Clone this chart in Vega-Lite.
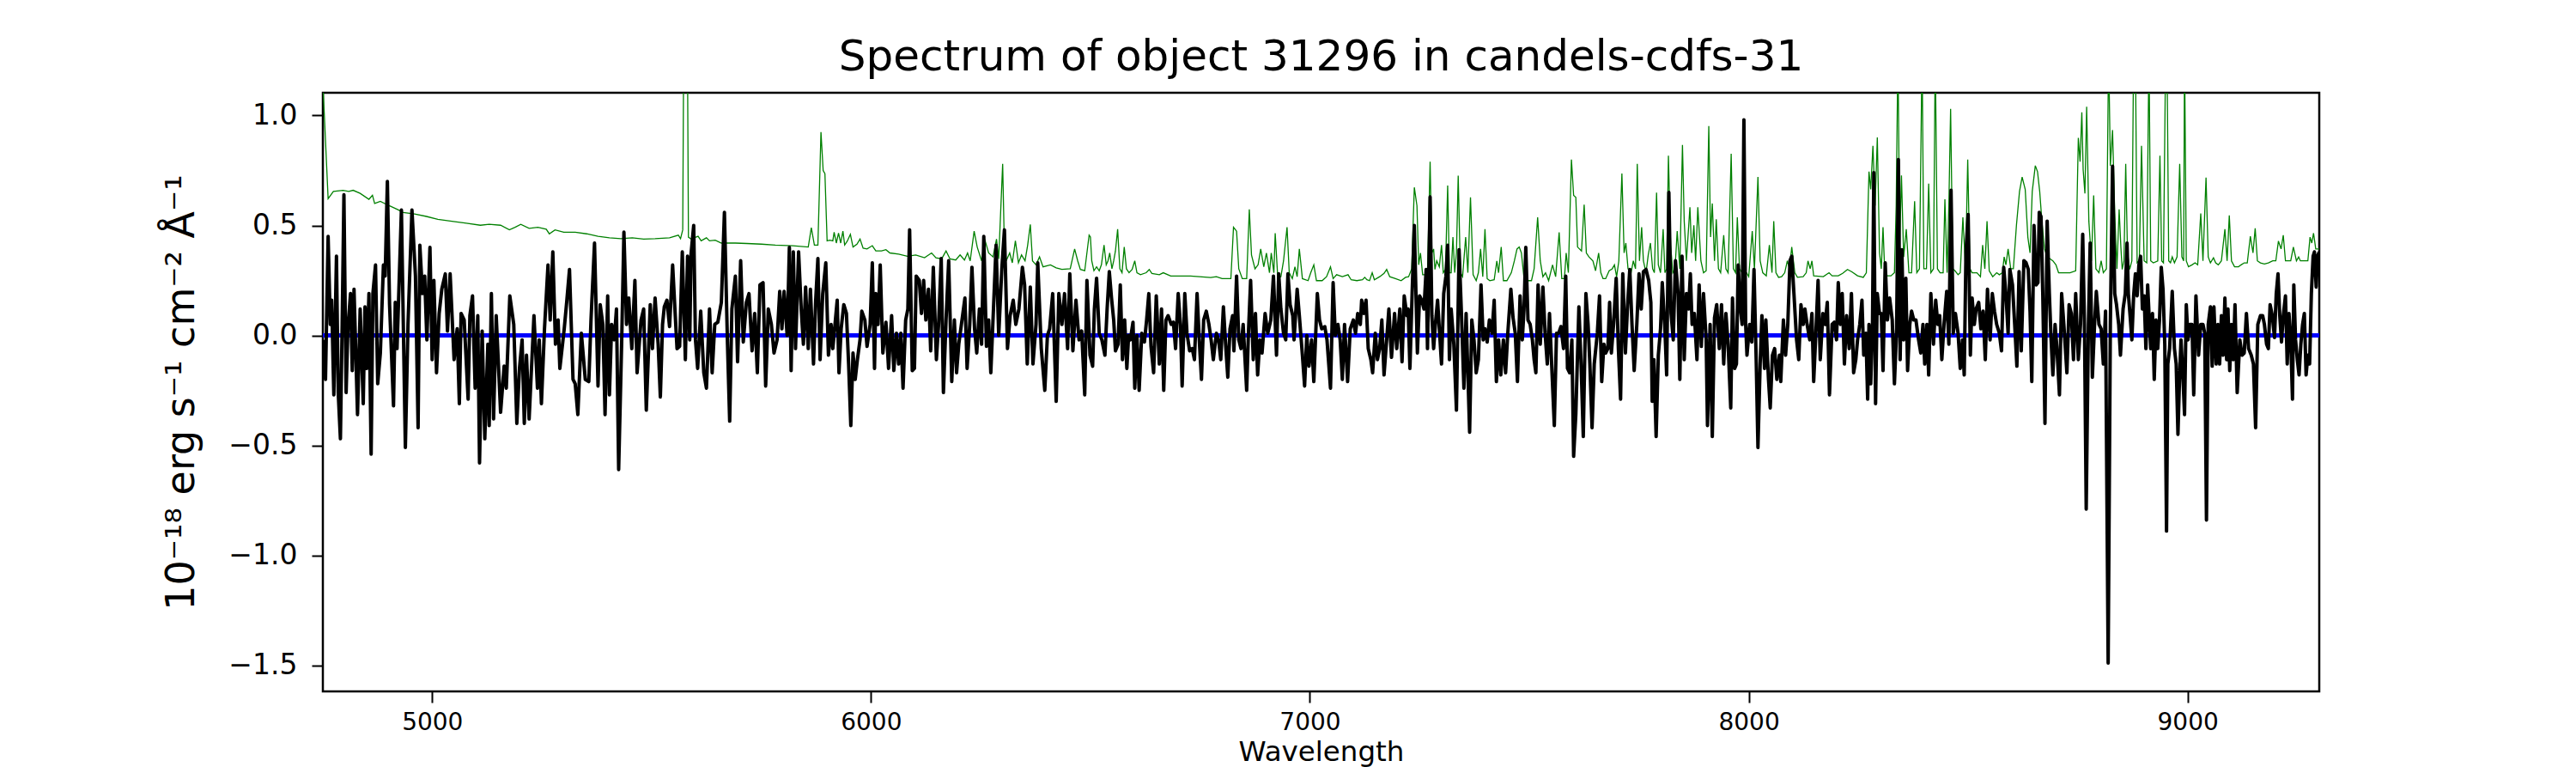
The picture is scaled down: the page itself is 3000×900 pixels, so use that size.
{
  "$schema": "https://vega.github.io/schema/vega-lite/v6.json",
  "width": 2325,
  "height": 697,
  "autosize": "none",
  "padding": {"left": 376, "top": 108, "right": 299, "bottom": 95},
  "background": "white",
  "title": {
    "text": "Spectrum of object 31296 in candels-cdfs-31",
    "fontSize": 50,
    "font": "DejaVu Sans",
    "fontWeight": "normal",
    "color": "black",
    "anchor": "middle",
    "frame": "group",
    "baseline": "alphabetic",
    "offset": 22,
    "dy": 46
  },
  "datasets": {
    "flux": [
      {"wl":4751,"flux":-0.02},{"wl":4757,"flux":-0.20},{"wl":4763,"flux":0.45},{"wl":4768,"flux":0.05},{"wl":4771,"flux":0.16},{"wl":4776,"flux":-0.27},{"wl":4782,"flux":0.36},{"wl":4786,"flux":-0.26},{"wl":4791,"flux":-0.47},{"wl":4795,"flux":0.05},{"wl":4799,"flux":0.64},{"wl":4804,"flux":-0.26},{"wl":4808,"flux":0.03},{"wl":4814,"flux":0.19},{"wl":4818,"flux":-0.16},{"wl":4822,"flux":0.21},{"wl":4830,"flux":-0.36},{"wl":4836,"flux":0.12},{"wl":4843,"flux":-0.31},{"wl":4847,"flux":0.13},{"wl":4851,"flux":-0.15},{"wl":4856,"flux":0.19},{"wl":4861,"flux":-0.54},{"wl":4865,"flux":0.19},{"wl":4871,"flux":0.32},{"wl":4876,"flux":-0.22},{"wl":4882,"flux":-0.08},{"wl":4889,"flux":0.32},{"wl":4893,"flux":0.27},{"wl":4898,"flux":0.70},{"wl":4903,"flux":0.14},{"wl":4912,"flux":-0.32},{"wl":4916,"flux":0.15},{"wl":4920,"flux":-0.06},{"wl":4930,"flux":0.57},{"wl":4939,"flux":-0.51},{"wl":4945,"flux":0.05},{"wl":4954,"flux":0.57},{"wl":4962,"flux":0.27},{"wl":4968,"flux":-0.42},{"wl":4972,"flux":0.41},{"wl":4978,"flux":0.19},{"wl":4983,"flux":0.27},{"wl":4988,"flux":-0.02},{"wl":4995,"flux":0.40},{"wl":5000,"flux":-0.11},{"wl":5004,"flux":0.25},{"wl":5010,"flux":-0.17},{"wl":5016,"flux":0.10},{"wl":5022,"flux":0.21},{"wl":5030,"flux":0.28},{"wl":5035,"flux":0.02},{"wl":5041,"flux":0.28},{"wl":5050,"flux":-0.11},{"wl":5057,"flux":0.03},{"wl":5062,"flux":-0.31},{"wl":5066,"flux":0.10},{"wl":5073,"flux":0.07},{"wl":5082,"flux":-0.29},{"wl":5086,"flux":0.09},{"wl":5092,"flux":0.18},{"wl":5098,"flux":-0.24},{"wl":5104,"flux":0.09},{"wl":5108,"flux":-0.58},{"wl":5114,"flux":0.02},{"wl":5120,"flux":-0.47},{"wl":5127,"flux":-0.04},{"wl":5130,"flux":-0.41},{"wl":5135,"flux":0.19},{"wl":5140,"flux":-0.38},{"wl":5146,"flux":0.09},{"wl":5156,"flux":-0.35},{"wl":5164,"flux":-0.14},{"wl":5169,"flux":-0.24},{"wl":5177,"flux":0.18},{"wl":5186,"flux":0.05},{"wl":5193,"flux":-0.40},{"wl":5199,"flux":-0.15},{"wl":5205,"flux":-0.02},{"wl":5210,"flux":-0.40},{"wl":5215,"flux":-0.09},{"wl":5221,"flux":-0.38},{"wl":5232,"flux":0.09},{"wl":5240,"flux":-0.24},{"wl":5244,"flux":-0.02},{"wl":5249,"flux":-0.31},{"wl":5256,"flux":0.03},{"wl":5264,"flux":0.32},{"wl":5269,"flux":0.07},{"wl":5275,"flux":0.38},{"wl":5281,"flux":-0.04},{"wl":5287,"flux":0.07},{"wl":5291,"flux":-0.15},{"wl":5301,"flux":0.03},{"wl":5307,"flux":0.16},{"wl":5313,"flux":0.30},{"wl":5321,"flux":-0.20},{"wl":5326,"flux":-0.22},
      {"wl":5332,"flux":-0.36},{"wl":5340,"flux":0.01},{"wl":5349,"flux":-0.20},{"wl":5357,"flux":-0.21},{"wl":5362,"flux":0.07},{"wl":5370,"flux":0.42},{"wl":5378,"flux":-0.23},{"wl":5383,"flux":0.14},{"wl":5389,"flux":0.05},{"wl":5394,"flux":-0.36},{"wl":5400,"flux":0.18},{"wl":5404,"flux":-0.27},{"wl":5409,"flux":0.05},{"wl":5415,"flux":-0.02},{"wl":5420,"flux":0.12},{"wl":5425,"flux":-0.61},{"wl":5432,"flux":-0.02},{"wl":5437,"flux":0.47},{"wl":5443,"flux":0.05},{"wl":5448,"flux":0.17},{"wl":5455,"flux":-0.06},{"wl":5462,"flux":0.25},{"wl":5467,"flux":-0.17},{"wl":5476,"flux":0.07},{"wl":5482,"flux":0.12},{"wl":5488,"flux":-0.34},{"wl":5497,"flux":0.14},{"wl":5502,"flux":-0.06},{"wl":5508,"flux":0.17},{"wl":5515,"flux":-0.04},{"wl":5520,"flux":-0.28},{"wl":5525,"flux":0.05},{"wl":5529,"flux":0.13},{"wl":5535,"flux":0.16},{"wl":5541,"flux":0.04},{"wl":5548,"flux":0.32},{"wl":5554,"flux":0.09},{"wl":5558,"flux":-0.06},{"wl":5564,"flux":-0.05},{"wl":5570,"flux":0.38},{"wl":5577,"flux":-0.11},{"wl":5582,"flux":0.36},{"wl":5587,"flux":-0.02},{"wl":5590,"flux":0.37},{"wl":5596,"flux":0.50},{"wl":5600,"flux":-0.02},{"wl":5605,"flux":-0.15},{"wl":5612,"flux":0.11},{"wl":5619,"flux":-0.17},{"wl":5625,"flux":-0.24},{"wl":5632,"flux":0.12},{"wl":5638,"flux":-0.17},{"wl":5644,"flux":0.05},{"wl":5651,"flux":0.06},{"wl":5659,"flux":0.15},{"wl":5666,"flux":0.56},{"wl":5673,"flux":-0.04},{"wl":5678,"flux":-0.39},{"wl":5683,"flux":0.12},{"wl":5691,"flux":0.27},{"wl":5696,"flux":-0.12},{"wl":5703,"flux":0.34},{"wl":5709,"flux":-0.03},{"wl":5716,"flux":0.15},{"wl":5722,"flux":0.19},{"wl":5729,"flux":-0.07},{"wl":5735,"flux":0.10},{"wl":5741,"flux":-0.17},{"wl":5747,"flux":0.23},{"wl":5754,"flux":0.24},{"wl":5760,"flux":-0.23},{"wl":5766,"flux":0.12},{"wl":5773,"flux":0.05},{"wl":5779,"flux":-0.08},{"wl":5786,"flux":-0.02},{"wl":5792,"flux":0.20},{"wl":5797,"flux":0.03},{"wl":5802,"flux":0.20},{"wl":5809,"flux":0.00},{"wl":5814,"flux":0.40},{"wl":5818,"flux":-0.16},{"wl":5823,"flux":0.38},{"wl":5828,"flux":-0.06},{"wl":5835,"flux":0.38},{"wl":5841,"flux":0.12},{"wl":5846,"flux":-0.04},{"wl":5851,"flux":0.22},{"wl":5857,"flux":-0.06},{"wl":5862,"flux":0.21},{"wl":5869,"flux":-0.13},{"wl":5874,"flux":0.16},{"wl":5879,"flux":0.35},{"wl":5884,"flux":-0.11},{"wl":5890,"flux":0.19},{"wl":5897,"flux":0.33},{"wl":5903,"flux":-0.09},{"wl":5909,"flux":0.05},
      {"wl":5913,"flux":-0.06},{"wl":5918,"flux":0.05},{"wl":5923,"flux":0.16},{"wl":5927,"flux":-0.17},{"wl":5932,"flux":0.03},{"wl":5938,"flux":0.14},{"wl":5944,"flux":0.10},{"wl":5949,"flux":-0.13},{"wl":5954,"flux":-0.41},{"wl":5959,"flux":-0.08},{"wl":5964,"flux":-0.20},{"wl":5969,"flux":-0.11},{"wl":5975,"flux":-0.02},{"wl":5979,"flux":0.11},{"wl":5986,"flux":0.07},{"wl":5991,"flux":-0.05},{"wl":5998,"flux":0.05},{"wl":6003,"flux":0.33},{"wl":6008,"flux":-0.15},{"wl":6011,"flux":0.19},{"wl":6016,"flux":0.05},{"wl":6021,"flux":0.32},{"wl":6027,"flux":-0.08},{"wl":6034,"flux":0.06},{"wl":6040,"flux":-0.15},{"wl":6047,"flux":0.09},{"wl":6052,"flux":-0.16},{"wl":6058,"flux":0.01},{"wl":6063,"flux":-0.13},{"wl":6068,"flux":0.01},{"wl":6073,"flux":-0.24},{"wl":6079,"flux":0.07},{"wl":6084,"flux":0.12},{"wl":6088,"flux":0.48},{"wl":6094,"flux":-0.16},{"wl":6099,"flux":-0.15},{"wl":6103,"flux":0.27},{"wl":6110,"flux":0.25},{"wl":6115,"flux":0.10},{"wl":6120,"flux":0.25},{"wl":6125,"flux":0.07},{"wl":6131,"flux":0.21},{"wl":6136,"flux":-0.07},{"wl":6142,"flux":0.31},{"wl":6149,"flux":-0.11},{"wl":6154,"flux":0.05},{"wl":6160,"flux":0.35},{"wl":6165,"flux":-0.26},{"wl":6171,"flux":0.07},{"wl":6177,"flux":0.34},{"wl":6184,"flux":-0.21},{"wl":6190,"flux":0.07},{"wl":6195,"flux":-0.17},{"wl":6200,"flux":-0.04},{"wl":6206,"flux":0.05},{"wl":6214,"flux":0.17},{"wl":6219,"flux":-0.15},{"wl":6225,"flux":0.05},{"wl":6230,"flux":0.31},{"wl":6236,"flux":0.03},{"wl":6241,"flux":-0.08},{"wl":6247,"flux":0.12},{"wl":6252,"flux":-0.04},{"wl":6257,"flux":0.45},{"wl":6263,"flux":-0.05},{"wl":6268,"flux":0.07},{"wl":6273,"flux":-0.17},{"wl":6278,"flux":0.07},{"wl":6285,"flux":0.41},{"wl":6291,"flux":0.00},{"wl":6298,"flux":0.30},{"wl":6304,"flux":0.48},{"wl":6311,"flux":-0.06},{"wl":6317,"flux":0.09},{"wl":6324,"flux":0.16},{"wl":6330,"flux":0.05},{"wl":6337,"flux":0.12},{"wl":6345,"flux":0.31},{"wl":6350,"flux":0.23},{"wl":6356,"flux":-0.13},{"wl":6363,"flux":0.22},{"wl":6369,"flux":-0.13},{"wl":6376,"flux":0.05},{"wl":6380,"flux":0.33},{"wl":6388,"flux":-0.06},{"wl":6396,"flux":-0.25},{"wl":6402,"flux":0.00},{"wl":6407,"flux":0.03},{"wl":6414,"flux":0.19},{"wl":6422,"flux":-0.30},{"wl":6428,"flux":0.19},{"wl":6435,"flux":0.05},{"wl":6441,"flux":0.19},{"wl":6448,"flux":-0.06},{"wl":6453,"flux":0.28},{"wl":6460,"flux":-0.07},{"wl":6467,"flux":0.16},{"wl":6474,"flux":-0.02},{"wl":6480,"flux":0.02},{"wl":6487,"flux":-0.27},{"wl":6492,"flux":0.25},{"wl":6499,"flux":-0.09},
      {"wl":6505,"flux":-0.14},{"wl":6509,"flux":0.12},{"wl":6514,"flux":0.26},{"wl":6520,"flux":0.01},{"wl":6526,"flux":-0.02},{"wl":6533,"flux":-0.09},{"wl":6538,"flux":0.12},{"wl":6543,"flux":0.29},{"wl":6548,"flux":0.17},{"wl":6553,"flux":0.07},{"wl":6557,"flux":-0.07},{"wl":6563,"flux":-0.04},{"wl":6568,"flux":0.23},{"wl":6573,"flux":-0.11},{"wl":6578,"flux":0.07},{"wl":6583,"flux":-0.15},{"wl":6587,"flux":0.00},{"wl":6591,"flux":-0.02},{"wl":6597,"flux":0.06},{"wl":6601,"flux":-0.24},{"wl":6606,"flux":0.00},{"wl":6611,"flux":-0.25},{"wl":6617,"flux":0.01},{"wl":6623,"flux":-0.03},{"wl":6628,"flux":0.07},{"wl":6633,"flux":0.19},{"wl":6638,"flux":-0.05},{"wl":6644,"flux":-0.17},{"wl":6650,"flux":0.18},{"wl":6657,"flux":-0.13},{"wl":6662,"flux":0.12},{"wl":6667,"flux":-0.25},{"wl":6672,"flux":0.07},{"wl":6677,"flux":0.09},{"wl":6684,"flux":0.05},{"wl":6689,"flux":0.06},{"wl":6694,"flux":-0.06},{"wl":6700,"flux":0.19},{"wl":6705,"flux":0.05},{"wl":6709,"flux":-0.23},{"wl":6715,"flux":0.19},{"wl":6720,"flux":0.01},{"wl":6726,"flux":-0.07},{"wl":6732,"flux":-0.06},{"wl":6737,"flux":-0.11},{"wl":6743,"flux":0.19},{"wl":6748,"flux":-0.02},{"wl":6753,"flux":-0.20},{"wl":6758,"flux":0.07},{"wl":6764,"flux":0.11},{"wl":6770,"flux":0.05},{"wl":6775,"flux":-0.02},{"wl":6780,"flux":-0.11},{"wl":6787,"flux":0.01},{"wl":6792,"flux":-0.02},{"wl":6797,"flux":-0.11},{"wl":6803,"flux":0.13},{"wl":6808,"flux":-0.04},{"wl":6813,"flux":-0.19},{"wl":6818,"flux":0.03},{"wl":6824,"flux":0.09},{"wl":6827,"flux":-0.07},{"wl":6833,"flux":0.27},{"wl":6838,"flux":-0.02},{"wl":6843,"flux":-0.06},{"wl":6848,"flux":0.05},{"wl":6856,"flux":-0.25},{"wl":6860,"flux":0.01},{"wl":6865,"flux":0.25},{"wl":6871,"flux":-0.11},{"wl":6876,"flux":0.10},{"wl":6881,"flux":-0.18},{"wl":6886,"flux":-0.02},{"wl":6891,"flux":-0.08},{"wl":6898,"flux":0.10},{"wl":6904,"flux":0.01},{"wl":6911,"flux":0.07},{"wl":6917,"flux":0.27},{"wl":6924,"flux":-0.09},{"wl":6929,"flux":0.28},{"wl":6934,"flux":0.12},{"wl":6940,"flux":0.01},{"wl":6945,"flux":-0.02},{"wl":6950,"flux":0.28},{"wl":6955,"flux":0.14},{"wl":6961,"flux":0.09},{"wl":6964,"flux":-0.02},{"wl":6971,"flux":0.21},{"wl":6976,"flux":0.09},{"wl":6983,"flux":-0.09},{"wl":6988,"flux":-0.23},{"wl":6993,"flux":0.00},{"wl":6998,"flux":-0.14},{"wl":7004,"flux":-0.02},{"wl":7009,"flux":-0.21},{"wl":7017,"flux":0.19},{"wl":7022,"flux":0.07},{"wl":7027,"flux":0.03},{"wl":7034,"flux":0.04},{"wl":7039,"flux":-0.02},{"wl":7047,"flux":-0.24},{"wl":7053,"flux":0.24},{"wl":7058,"flux":0.00},{"wl":7064,"flux":0.05},{"wl":7069,"flux":-0.02},{"wl":7074,"flux":-0.20},{"wl":7079,"flux":0.05},{"wl":7086,"flux":-0.21},
      {"wl":7092,"flux":0.03},{"wl":7099,"flux":0.07},{"wl":7104,"flux":0.01},{"wl":7109,"flux":0.10},{"wl":7115,"flux":0.05},{"wl":7118,"flux":0.16},{"wl":7123,"flux":0.10},{"wl":7128,"flux":0.16},{"wl":7133,"flux":-0.06},{"wl":7139,"flux":-0.11},{"wl":7143,"flux":-0.17},{"wl":7149,"flux":0.01},{"wl":7154,"flux":-0.11},{"wl":7159,"flux":-0.06},{"wl":7164,"flux":0.07},{"wl":7169,"flux":-0.18},{"wl":7175,"flux":-0.02},{"wl":7180,"flux":0.12},{"wl":7186,"flux":-0.10},{"wl":7193,"flux":0.10},{"wl":7198,"flux":-0.06},{"wl":7205,"flux":0.12},{"wl":7210,"flux":-0.12},{"wl":7215,"flux":0.18},{"wl":7221,"flux":0.09},{"wl":7224,"flux":0.12},{"wl":7228,"flux":-0.15},{"wl":7233,"flux":0.19},{"wl":7238,"flux":0.50},{"wl":7245,"flux":-0.08},{"wl":7250,"flux":0.18},{"wl":7255,"flux":0.16},{"wl":7260,"flux":0.12},{"wl":7265,"flux":0.30},{"wl":7268,"flux":-0.06},{"wl":7274,"flux":0.63},{"wl":7278,"flux":0.09},{"wl":7282,"flux":-0.06},{"wl":7286,"flux":0.05},{"wl":7291,"flux":0.16},{"wl":7295,"flux":0.03},{"wl":7300,"flux":-0.13},{"wl":7305,"flux":0.19},{"wl":7310,"flux":0.27},{"wl":7314,"flux":0.41},{"wl":7318,"flux":-0.11},{"wl":7322,"flux":0.12},{"wl":7328,"flux":-0.04},{"wl":7334,"flux":-0.34},{"wl":7340,"flux":0.39},{"wl":7345,"flux":0.12},{"wl":7351,"flux":-0.24},{"wl":7356,"flux":0.10},{"wl":7360,"flux":-0.17},{"wl":7364,"flux":-0.44},{"wl":7369,"flux":0.07},{"wl":7374,"flux":-0.02},{"wl":7379,"flux":-0.17},{"wl":7384,"flux":-0.11},{"wl":7390,"flux":0.23},{"wl":7395,"flux":-0.02},{"wl":7399,"flux":0.03},{"wl":7404,"flux":-0.03},{"wl":7409,"flux":0.07},{"wl":7415,"flux":0.01},{"wl":7420,"flux":0.16},{"wl":7425,"flux":-0.21},{"wl":7430,"flux":-0.02},{"wl":7435,"flux":-0.18},{"wl":7441,"flux":-0.02},{"wl":7446,"flux":-0.17},{"wl":7451,"flux":0.01},{"wl":7458,"flux":0.21},{"wl":7463,"flux":0.08},{"wl":7468,"flux":0.01},{"wl":7473,"flux":-0.21},{"wl":7479,"flux":0.18},{"wl":7484,"flux":-0.02},{"wl":7488,"flux":0.12},{"wl":7492,"flux":0.40},{"wl":7497,"flux":0.07},{"wl":7502,"flux":0.05},{"wl":7507,"flux":-0.02},{"wl":7511,"flux":-0.11},{"wl":7515,"flux":-0.17},{"wl":7520,"flux":0.23},{"wl":7525,"flux":-0.04},{"wl":7531,"flux":0.22},{"wl":7536,"flux":0.01},{"wl":7541,"flux":-0.13},{"wl":7546,"flux":0.10},{"wl":7552,"flux":-0.18},{"wl":7557,"flux":-0.41},{"wl":7562,"flux":0.01},{"wl":7567,"flux":0.01},{"wl":7572,"flux":0.04},{"wl":7578,"flux":-0.06},{"wl":7583,"flux":0.27},{"wl":7587,"flux":-0.15},{"wl":7592,"flux":-0.17},{"wl":7597,"flux":-0.02},{"wl":7601,"flux":-0.55},{"wl":7606,"flux":-0.36},{"wl":7613,"flux":0.13},{"wl":7618,"flux":-0.13},{"wl":7623,"flux":-0.46},{"wl":7629,"flux":0.19},{"wl":7634,"flux":0.05},{"wl":7638,"flux":-0.13},{"wl":7643,"flux":-0.42},{"wl":7648,"flux":-0.13},{"wl":7655,"flux":0.01},{"wl":7660,"flux":0.18},{"wl":7665,"flux":-0.21},{"wl":7670,"flux":-0.04},
      {"wl":7674,"flux":-0.08},{"wl":7679,"flux":-0.06},{"wl":7683,"flux":0.15},{"wl":7687,"flux":-0.08},{"wl":7692,"flux":0.05},{"wl":7698,"flux":0.26},{"wl":7703,"flux":-0.06},{"wl":7708,"flux":-0.29},{"wl":7713,"flux":0.28},{"wl":7719,"flux":-0.08},{"wl":7724,"flux":0.14},{"wl":7729,"flux":0.30},{"wl":7734,"flux":0.05},{"wl":7739,"flux":-0.16},{"wl":7745,"flux":0.05},{"wl":7750,"flux":0.28},{"wl":7755,"flux":0.12},{"wl":7760,"flux":0.29},{"wl":7766,"flux":0.30},{"wl":7772,"flux":0.25},{"wl":7777,"flux":0.15},{"wl":7780,"flux":-0.30},{"wl":7784,"flux":-0.11},{"wl":7789,"flux":-0.46},{"wl":7794,"flux":-0.09},{"wl":7799,"flux":0.03},{"wl":7803,"flux":0.24},{"wl":7809,"flux":0.03},{"wl":7813,"flux":-0.18},{"wl":7818,"flux":0.65},{"wl":7823,"flux":0.10},{"wl":7828,"flux":-0.02},{"wl":7833,"flux":0.34},{"wl":7839,"flux":0.19},{"wl":7843,"flux":-0.20},{"wl":7848,"flux":0.36},{"wl":7853,"flux":-0.11},{"wl":7858,"flux":0.19},{"wl":7863,"flux":0.12},{"wl":7867,"flux":0.28},{"wl":7871,"flux":0.05},{"wl":7876,"flux":0.10},{"wl":7882,"flux":-0.11},{"wl":7887,"flux":0.23},{"wl":7892,"flux":-0.05},{"wl":7897,"flux":0.19},{"wl":7903,"flux":-0.02},{"wl":7906,"flux":-0.41},{"wl":7912,"flux":0.05},{"wl":7917,"flux":-0.46},{"wl":7922,"flux":0.08},{"wl":7927,"flux":0.14},{"wl":7933,"flux":-0.06},{"wl":7938,"flux":0.14},{"wl":7943,"flux":-0.13},{"wl":7948,"flux":0.10},{"wl":7953,"flux":-0.04},{"wl":7959,"flux":-0.33},{"wl":7963,"flux":0.17},{"wl":7968,"flux":-0.15},{"wl":7972,"flux":-0.13},{"wl":7976,"flux":0.32},{"wl":7981,"flux":0.12},{"wl":7985,"flux":0.05},{"wl":7989,"flux":0.98},{"wl":7993,"flux":0.05},{"wl":7996,"flux":-0.09},{"wl":8002,"flux":0.05},{"wl":8007,"flux":-0.03},{"wl":8012,"flux":0.30},{"wl":8017,"flux":-0.11},{"wl":8021,"flux":-0.51},{"wl":8026,"flux":-0.13},{"wl":8030,"flux":0.09},{"wl":8036,"flux":-0.15},{"wl":8039,"flux":0.07},{"wl":8045,"flux":-0.20},{"wl":8049,"flux":-0.33},{"wl":8054,"flux":-0.09},{"wl":8059,"flux":-0.06},{"wl":8064,"flux":-0.20},{"wl":8070,"flux":-0.09},{"wl":8073,"flux":-0.21},{"wl":8079,"flux":0.07},{"wl":8084,"flux":-0.09},{"wl":8089,"flux":0.05},{"wl":8094,"flux":0.34},{"wl":8098,"flux":0.36},{"wl":8103,"flux":0.19},{"wl":8109,"flux":-0.02},{"wl":8114,"flux":-0.11},{"wl":8119,"flux":0.14},{"wl":8124,"flux":0.05},{"wl":8128,"flux":0.12},{"wl":8133,"flux":0.05},{"wl":8139,"flux":-0.02},{"wl":8144,"flux":0.10},{"wl":8148,"flux":-0.21},{"wl":8153,"flux":0.01},{"wl":8158,"flux":0.25},{"wl":8163,"flux":-0.11},{"wl":8169,"flux":0.10},{"wl":8174,"flux":0.05},{"wl":8179,"flux":0.15},{"wl":8184,"flux":-0.27},{"wl":8190,"flux":0.05},{"wl":8195,"flux":0.06},{"wl":8200,"flux":-0.02},{"wl":8204,"flux":0.24},{"wl":8209,"flux":0.05},{"wl":8213,"flux":0.19},{"wl":8218,"flux":-0.13},{"wl":8223,"flux":0.09},{"wl":8229,"flux":-0.06},{"wl":8234,"flux":0.19},{"wl":8239,"flux":-0.17},{"wl":8244,"flux":-0.11},{"wl":8248,"flux":-0.02},{"wl":8253,"flux":0.05},{"wl":8258,"flux":0.16},
      {"wl":8262,"flux":-0.09},{"wl":8267,"flux":0.01},{"wl":8271,"flux":-0.29},{"wl":8274,"flux":0.05},{"wl":8278,"flux":-0.22},{"wl":8282,"flux":0.05},{"wl":8285,"flux":0.74},{"wl":8289,"flux":-0.31},{"wl":8293,"flux":0.19},{"wl":8298,"flux":0.10},{"wl":8302,"flux":0.10},{"wl":8306,"flux":-0.16},{"wl":8311,"flux":0.33},{"wl":8316,"flux":0.07},{"wl":8321,"flux":0.17},{"wl":8327,"flux":0.07},{"wl":8332,"flux":-0.22},{"wl":8337,"flux":0.03},{"wl":8341,"flux":0.80},{"wl":8345,"flux":-0.11},{"wl":8349,"flux":0.39},{"wl":8353,"flux":-0.02},{"wl":8358,"flux":0.26},{"wl":8362,"flux":-0.16},{"wl":8367,"flux":0.05},{"wl":8371,"flux":0.11},{"wl":8376,"flux":0.07},{"wl":8381,"flux":0.07},{"wl":8387,"flux":-0.02},{"wl":8392,"flux":-0.08},{"wl":8397,"flux":0.05},{"wl":8401,"flux":-0.13},{"wl":8406,"flux":0.05},{"wl":8410,"flux":-0.18},{"wl":8415,"flux":0.19},{"wl":8421,"flux":-0.04},{"wl":8426,"flux":0.16},{"wl":8431,"flux":0.05},{"wl":8435,"flux":0.09},{"wl":8440,"flux":-0.11},{"wl":8445,"flux":0.05},{"wl":8451,"flux":0.20},{"wl":8456,"flux":-0.04},{"wl":8461,"flux":0.66},{"wl":8466,"flux":0.01},{"wl":8471,"flux":0.10},{"wl":8477,"flux":0.01},{"wl":8482,"flux":-0.15},{"wl":8487,"flux":-0.02},{"wl":8491,"flux":-0.18},{"wl":8495,"flux":0.38},{"wl":8500,"flux":0.55},{"wl":8505,"flux":-0.09},{"wl":8509,"flux":0.17},{"wl":8514,"flux":0.05},{"wl":8518,"flux":0.12},{"wl":8524,"flux":0.15},{"wl":8529,"flux":0.03},{"wl":8534,"flux":0.11},{"wl":8539,"flux":-0.11},{"wl":8544,"flux":0.21},{"wl":8550,"flux":-0.02},{"wl":8555,"flux":0.19},{"wl":8560,"flux":0.11},{"wl":8565,"flux":0.05},{"wl":8571,"flux":0.01},{"wl":8576,"flux":-0.07},{"wl":8581,"flux":0.31},{"wl":8586,"flux":0.19},{"wl":8591,"flux":0.01},{"wl":8595,"flux":0.30},{"wl":8601,"flux":0.23},{"wl":8606,"flux":0.05},{"wl":8611,"flux":-0.14},{"wl":8616,"flux":0.29},{"wl":8621,"flux":-0.07},{"wl":8627,"flux":0.34},{"wl":8632,"flux":0.33},{"wl":8637,"flux":0.30},{"wl":8641,"flux":0.11},{"wl":8645,"flux":-0.21},{"wl":8650,"flux":0.50},{"wl":8655,"flux":0.23},{"wl":8659,"flux":0.24},{"wl":8662,"flux":0.56},{"wl":8666,"flux":0.54},{"wl":8670,"flux":0.19},{"wl":8675,"flux":-0.40},{"wl":8680,"flux":0.52},{"wl":8685,"flux":0.19},{"wl":8689,"flux":-0.02},{"wl":8693,"flux":-0.18},{"wl":8698,"flux":0.05},{"wl":8702,"flux":-0.05},{"wl":8708,"flux":-0.27},{"wl":8713,"flux":0.19},{"wl":8718,"flux":0.05},{"wl":8725,"flux":-0.17},{"wl":8730,"flux":0.14},{"wl":8735,"flux":0.10},{"wl":8740,"flux":-0.11},{"wl":8745,"flux":0.19},{"wl":8751,"flux":-0.11},{"wl":8756,"flux":0.05},{"wl":8761,"flux":0.46},{"wl":8765,"flux":0.05},{"wl":8769,"flux":-0.79},{"wl":8774,"flux":0.05},{"wl":8778,"flux":0.42},{"wl":8783,"flux":-0.19},{"wl":8788,"flux":0.05},{"wl":8792,"flux":0.20},{"wl":8798,"flux":0.05},{"wl":8803,"flux":0.03},{"wl":8808,"flux":-0.13},{"wl":8813,"flux":0.11},{"wl":8819,"flux":-1.49},{"wl":8824,"flux":0.05},{"wl":8829,"flux":0.77},{"wl":8834,"flux":0.19},{"wl":8838,"flux":0.14},{"wl":8843,"flux":0.05},{"wl":8847,"flux":-0.09},
      {"wl":8853,"flux":0.12},{"wl":8858,"flux":0.19},{"wl":8862,"flux":0.42},{"wl":8865,"flux":0.19},{"wl":8869,"flux":0.09},{"wl":8873,"flux":-0.02},{"wl":8877,"flux":0.18},{"wl":8881,"flux":0.28},{"wl":8885,"flux":0.18},{"wl":8889,"flux":0.32},{"wl":8893,"flux":0.36},{"wl":8897,"flux":0.12},{"wl":8901,"flux":0.18},{"wl":8905,"flux":-0.06},{"wl":8909,"flux":0.23},{"wl":8912,"flux":0.10},{"wl":8916,"flux":-0.06},{"wl":8920,"flux":0.10},{"wl":8924,"flux":-0.20},{"wl":8928,"flux":0.07},{"wl":8932,"flux":-0.06},{"wl":8936,"flux":0.07},{"wl":8940,"flux":0.31},{"wl":8944,"flux":0.21},{"wl":8948,"flux":-0.04},{"wl":8952,"flux":-0.89},{"wl":8955,"flux":-0.13},{"wl":8959,"flux":-0.06},{"wl":8965,"flux":0.20},{"wl":8970,"flux":-0.06},{"wl":8974,"flux":-0.13},{"wl":8978,"flux":-0.45},{"wl":8982,"flux":-0.17},{"wl":8985,"flux":-0.02},{"wl":8989,"flux":-0.17},{"wl":8993,"flux":-0.36},{"wl":8997,"flux":0.14},{"wl":9001,"flux":-0.02},{"wl":9005,"flux":0.05},{"wl":9010,"flux":0.05},{"wl":9014,"flux":-0.27},{"wl":9019,"flux":0.18},{"wl":9025,"flux":-0.09},{"wl":9030,"flux":0.05},{"wl":9035,"flux":0.05},{"wl":9039,"flux":0.01},{"wl":9043,"flux":-0.84},{"wl":9047,"flux":0.05},{"wl":9052,"flux":0.13},{"wl":9056,"flux":-0.14},{"wl":9060,"flux":0.13},{"wl":9065,"flux":-0.13},{"wl":9069,"flux":0.05},{"wl":9073,"flux":-0.13},{"wl":9077,"flux":0.09},{"wl":9081,"flux":-0.09},{"wl":9085,"flux":0.17},{"wl":9089,"flux":-0.11},{"wl":9092,"flux":0.12},{"wl":9096,"flux":-0.16},{"wl":9100,"flux":0.05},{"wl":9104,"flux":-0.11},{"wl":9108,"flux":0.14},{"wl":9113,"flux":-0.26},{"wl":9119,"flux":-0.02},{"wl":9124,"flux":-0.09},{"wl":9129,"flux":-0.08},{"wl":9134,"flux":0.10},{"wl":9139,"flux":-0.06},{"wl":9145,"flux":-0.09},{"wl":9150,"flux":-0.13},{"wl":9155,"flux":-0.42},{"wl":9160,"flux":0.05},{"wl":9166,"flux":0.09},{"wl":9171,"flux":0.09},{"wl":9175,"flux":0.05},{"wl":9180,"flux":-0.04},{"wl":9184,"flux":-0.06},{"wl":9188,"flux":0.14},{"wl":9193,"flux":0.09},{"wl":9198,"flux":-0.01},{"wl":9202,"flux":0.19},{"wl":9206,"flux":0.28},{"wl":9210,"flux":0.09},{"wl":9214,"flux":-0.03},{"wl":9218,"flux":0.09},{"wl":9223,"flux":0.18},{"wl":9227,"flux":-0.13},{"wl":9231,"flux":0.10},{"wl":9235,"flux":-0.02},{"wl":9239,"flux":-0.29},{"wl":9242,"flux":0.23},{"wl":9246,"flux":-0.02},{"wl":9250,"flux":-0.11},{"wl":9254,"flux":-0.18},{"wl":9258,"flux":-0.04},{"wl":9262,"flux":0.05},{"wl":9266,"flux":0.10},{"wl":9270,"flux":-0.18},{"wl":9274,"flux":-0.09},{"wl":9278,"flux":-0.13},{"wl":9282,"flux":0.19},{"wl":9286,"flux":0.36},{"wl":9289,"flux":0.38},{"wl":9293,"flux":0.22},{"wl":9296,"flux":0.36},{"wl":9300,"flux":0.38}
    ],
    "error": [
      {"wl":4751,"err":1.15},{"wl":4763,"err":0.622},{"wl":4775,"err":0.655},{"wl":4797,"err":0.66},{"wl":4810,"err":0.655},{"wl":4820,"err":0.66},{"wl":4836,"err":0.646},{"wl":4856,"err":0.619},{"wl":4864,"err":0.637},{"wl":4869,"err":0.60},{"wl":4882,"err":0.61},{"wl":4902,"err":0.59},{"wl":4921,"err":0.573},{"wl":4934,"err":0.559},{"wl":4960,"err":0.552},{"wl":4987,"err":0.541},{"wl":5013,"err":0.528},{"wl":5045,"err":0.519},{"wl":5078,"err":0.51},{"wl":5110,"err":0.501},{"wl":5130,"err":0.505},{"wl":5156,"err":0.501},{"wl":5176,"err":0.48},{"wl":5189,"err":0.492},{"wl":5202,"err":0.505},{"wl":5221,"err":0.487},{"wl":5241,"err":0.492},{"wl":5260,"err":0.483},{"wl":5267,"err":0.462},{"wl":5280,"err":0.48},{"wl":5300,"err":0.469},{"wl":5326,"err":0.469},
      {"wl":5352,"err":0.462},{"wl":5378,"err":0.451},{"wl":5404,"err":0.444},{"wl":5430,"err":0.44},{"wl":5456,"err":0.444},{"wl":5482,"err":0.438},{"wl":5508,"err":0.44},{"wl":5541,"err":0.444},{"wl":5561,"err":0.456},{"wl":5566,"err":0.44},{"wl":5571,"err":0.48},{"wl":5574,"err":1.6},{"wl":5581,"err":1.6},{"wl":5584,"err":0.447},{"wl":5590,"err":0.438},{"wl":5606,"err":0.451},{"wl":5613,"err":0.43},{"wl":5625,"err":0.444},{"wl":5632,"err":0.43},{"wl":5645,"err":0.433},{"wl":5659,"err":0.42},{"wl":5691,"err":0.42},{"wl":5717,"err":0.418},{"wl":5750,"err":0.415},{"wl":5782,"err":0.411},{"wl":5822,"err":0.408},{"wl":5857,"err":0.402},{"wl":5864,"err":0.49},{"wl":5871,"err":0.411},{"wl":5879,"err":0.411},{"wl":5886,"err":0.925},{"wl":5891,"err":0.75},{"wl":5895,"err":0.736},{"wl":5900,"err":0.43},{"wl":5906,"err":0.433},{"wl":5913,"err":0.43},
      {"wl":5916,"err":0.469},{"wl":5921,"err":0.42},{"wl":5926,"err":0.465},{"wl":5931,"err":0.42},{"wl":5936,"err":0.474},{"wl":5940,"err":0.411},{"wl":5946,"err":0.429},{"wl":5953,"err":0.46},{"wl":5959,"err":0.402},{"wl":5968,"err":0.415},{"wl":5975,"err":0.438},{"wl":5982,"err":0.397},{"wl":5991,"err":0.393},{"wl":6003,"err":0.408},{"wl":6011,"err":0.384},{"wl":6024,"err":0.384},{"wl":6034,"err":0.39},{"wl":6043,"err":0.375},{"wl":6063,"err":0.37},{"wl":6083,"err":0.36},{"wl":6102,"err":0.366},{"wl":6122,"err":0.353},{"wl":6138,"err":0.375},{"wl":6148,"err":0.353},{"wl":6161,"err":0.348},{"wl":6171,"err":0.384},{"wl":6180,"err":0.348},{"wl":6193,"err":0.343},{"wl":6203,"err":0.366},{"wl":6213,"err":0.343},{"wl":6220,"err":0.375},{"wl":6226,"err":0.339},{"wl":6235,"err":0.474},{"wl":6242,"err":0.402},{"wl":6252,"err":0.339},{"wl":6259,"err":0.438},{"wl":6268,"err":0.375},{"wl":6278,"err":0.357},{"wl":6286,"err":0.438},{"wl":6291,"err":0.348},{"wl":6300,"err":0.78},{"wl":6303,"err":0.49},{"wl":6308,"err":0.339},{"wl":6316,"err":0.375},{"wl":6322,"err":0.33},{"wl":6329,"err":0.43},{"wl":6336,"err":0.33},{"wl":6343,"err":0.366},{"wl":6351,"err":0.339},{"wl":6357,"err":0.411},{"wl":6363,"err":0.505},{"wl":6368,"err":0.339},{"wl":6376,"err":0.321},{"wl":6384,"err":0.357},{"wl":6392,"err":0.312},{"wl":6409,"err":0.321},{"wl":6422,"err":0.307},{"wl":6435,"err":0.30},{"wl":6454,"err":0.303},{"wl":6464,"err":0.393},{"wl":6471,"err":0.339},{"wl":6477,"err":0.30},{"wl":6487,"err":0.294},{"wl":6497,"err":0.456},{"wl":6500,"err":0.447},
      {"wl":6503,"err":0.339},{"wl":6508,"err":0.294},{"wl":6514,"err":0.312},{"wl":6520,"err":0.294},{"wl":6525,"err":0.321},{"wl":6531,"err":0.411},{"wl":6536,"err":0.321},{"wl":6540,"err":0.339},{"wl":6544,"err":0.375},{"wl":6549,"err":0.303},{"wl":6553,"err":0.339},{"wl":6557,"err":0.384},{"wl":6562,"err":0.483},{"wl":6567,"err":0.303},{"wl":6572,"err":0.285},{"wl":6577,"err":0.402},{"wl":6582,"err":0.303},{"wl":6588,"err":0.285},{"wl":6595,"err":0.30},{"wl":6601,"err":0.339},{"wl":6606,"err":0.285},{"wl":6614,"err":0.276},{"wl":6627,"err":0.285},{"wl":6634,"err":0.30},{"wl":6640,"err":0.282},{"wl":6657,"err":0.276},{"wl":6666,"err":0.285},{"wl":6683,"err":0.27},{"wl":6709,"err":0.27},{"wl":6728,"err":0.27},{"wl":6748,"err":0.267},{"wl":6774,"err":0.263},{"wl":6787,"err":0.267},{"wl":6800,"err":0.258},{"wl":6820,"err":0.258},{"wl":6826,"err":0.492},{"wl":6833,"err":0.474},{"wl":6838,"err":0.303},{"wl":6846,"err":0.258},{"wl":6856,"err":0.258},{"wl":6862,"err":0.573},{"wl":6867,"err":0.366},{"wl":6875,"err":0.303},{"wl":6882,"err":0.321},{"wl":6888,"err":0.393},{"wl":6895,"err":0.312},{"wl":6901,"err":0.375},{"wl":6908,"err":0.285},{"wl":6912,"err":0.375},{"wl":6918,"err":0.285},{"wl":6921,"err":0.465},{"wl":6927,"err":0.258},{"wl":6934,"err":0.267},{"wl":6940,"err":0.339},{"wl":6948,"err":0.492},{"wl":6953,"err":0.285},{"wl":6960,"err":0.258},{"wl":6966,"err":0.312},{"wl":6971,"err":0.267},{"wl":6976,"err":0.393},{"wl":6983,"err":0.258},{"wl":6996,"err":0.249},{"wl":7002,"err":0.285},{"wl":7009,"err":0.321},{"wl":7015,"err":0.249},{"wl":7028,"err":0.249},{"wl":7038,"err":0.267},{"wl":7047,"err":0.312},{"wl":7053,"err":0.258},{"wl":7061,"err":0.276},{"wl":7074,"err":0.267},{"wl":7087,"err":0.276},
      {"wl":7094,"err":0.253},{"wl":7107,"err":0.249},{"wl":7120,"err":0.253},{"wl":7125,"err":0.264},{"wl":7130,"err":0.253},{"wl":7136,"err":0.249},{"wl":7142,"err":0.285},{"wl":7147,"err":0.253},{"wl":7159,"err":0.267},{"wl":7169,"err":0.282},{"wl":7175,"err":0.30},{"wl":7182,"err":0.267},{"wl":7195,"err":0.258},{"wl":7208,"err":0.249},{"wl":7218,"err":0.264},{"wl":7225,"err":0.267},{"wl":7232,"err":0.303},{"wl":7238,"err":0.673},{"wl":7244,"err":0.59},{"wl":7248,"err":0.321},{"wl":7252,"err":0.375},{"wl":7257,"err":0.276},{"wl":7262,"err":0.276},{"wl":7268,"err":0.285},{"wl":7274,"err":0.79},{"wl":7278,"err":0.375},{"wl":7282,"err":0.393},{"wl":7285,"err":0.30},{"wl":7289,"err":0.339},{"wl":7295,"err":0.312},{"wl":7300,"err":0.411},{"wl":7304,"err":0.285},{"wl":7309,"err":0.30},{"wl":7314,"err":0.682},{"wl":7318,"err":0.285},{"wl":7322,"err":0.285},{"wl":7326,"err":0.447},{"wl":7330,"err":0.285},{"wl":7334,"err":0.375},{"wl":7338,"err":0.727},{"wl":7343,"err":0.285},{"wl":7348,"err":0.267},{"wl":7355,"err":0.447},{"wl":7360,"err":0.285},{"wl":7366,"err":0.628},{"wl":7372,"err":0.276},{"wl":7379,"err":0.249},{"wl":7384,"err":0.285},{"wl":7389,"err":0.393},{"wl":7394,"err":0.267},{"wl":7399,"err":0.483},{"wl":7404,"err":0.258},{"wl":7410,"err":0.249},{"wl":7420,"err":0.253},{"wl":7426,"err":0.339},{"wl":7430,"err":0.285},{"wl":7436,"err":0.402},{"wl":7441,"err":0.249},{"wl":7449,"err":0.249},{"wl":7459,"err":0.285},{"wl":7466,"err":0.339},{"wl":7472,"err":0.393},{"wl":7477,"err":0.402},{"wl":7482,"err":0.375},{"wl":7488,"err":0.258},{"wl":7495,"err":0.249},{"wl":7505,"err":0.249},{"wl":7511,"err":0.303},{"wl":7519,"err":0.537},{"wl":7525,"err":0.339},{"wl":7531,"err":0.267},{"wl":7537,"err":0.285},{"wl":7544,"err":0.249},{"wl":7553,"err":0.321},{"wl":7560,"err":0.267},{"wl":7568,"err":0.469},{"wl":7574,"err":0.258},{"wl":7580,"err":0.258},{"wl":7584,"err":0.375},{"wl":7589,"err":0.285},{"wl":7596,"err":0.80},{"wl":7601,"err":0.637},{"wl":7606,"err":0.628},{"wl":7610,"err":0.402},{"wl":7619,"err":0.384},{"wl":7625,"err":0.595},{"wl":7630,"err":0.375},{"wl":7636,"err":0.357},{"wl":7645,"err":0.339},{"wl":7651,"err":0.294},{"wl":7658,"err":0.375},{"wl":7663,"err":0.285},{"wl":7668,"err":0.258},{"wl":7674,"err":0.258},
      {"wl":7682,"err":0.294},{"wl":7689,"err":0.303},{"wl":7694,"err":0.321},{"wl":7699,"err":0.267},{"wl":7704,"err":0.339},{"wl":7711,"err":0.736},{"wl":7716,"err":0.375},{"wl":7720,"err":0.42},{"wl":7725,"err":0.303},{"wl":7732,"err":0.285},{"wl":7737,"err":0.339},{"wl":7742,"err":0.303},{"wl":7746,"err":0.78},{"wl":7751,"err":0.339},{"wl":7756,"err":0.492},{"wl":7760,"err":0.339},{"wl":7766,"err":0.285},{"wl":7771,"err":0.366},{"wl":7776,"err":0.42},{"wl":7781,"err":0.303},{"wl":7785,"err":0.285},{"wl":7790,"err":0.649},{"wl":7794,"err":0.321},{"wl":7799,"err":0.285},{"wl":7805,"err":0.483},{"wl":7809,"err":0.285},{"wl":7813,"err":0.303},{"wl":7817,"err":0.817},{"wl":7822,"err":0.411},{"wl":7827,"err":0.285},{"wl":7832,"err":0.303},{"wl":7837,"err":0.474},{"wl":7843,"err":0.303},{"wl":7849,"err":0.866},{"wl":7853,"err":0.519},{"wl":7858,"err":0.339},{"wl":7866,"err":0.583},{"wl":7870,"err":0.375},{"wl":7875,"err":0.501},{"wl":7879,"err":0.339},{"wl":7884,"err":0.583},{"wl":7891,"err":0.339},{"wl":7897,"err":0.285},{"wl":7903,"err":0.294},{"wl":7909,"err":0.952},{"wl":7913,"err":0.447},{"wl":7917,"err":0.60},{"wl":7922,"err":0.339},{"wl":7926,"err":0.528},{"wl":7931,"err":0.303},{"wl":7936,"err":0.285},{"wl":7943,"err":0.456},{"wl":7948,"err":0.303},{"wl":7953,"err":0.285},{"wl":7960,"err":0.826},{"wl":7965,"err":0.303},{"wl":7970,"err":0.285},{"wl":7974,"err":0.537},{"wl":7979,"err":0.303},{"wl":7985,"err":0.285},{"wl":7995,"err":0.285},{"wl":8000,"err":0.267},{"wl":8008,"err":0.474},{"wl":8013,"err":0.303},{"wl":8021,"err":0.721},{"wl":8026,"err":0.339},{"wl":8032,"err":0.285},{"wl":8040,"err":0.271},{"wl":8047,"err":0.411},{"wl":8053,"err":0.285},{"wl":8057,"err":0.519},{"wl":8062,"err":0.285},{"wl":8068,"err":0.264},{"wl":8075,"err":0.267},{"wl":8082,"err":0.285},{"wl":8088,"err":0.339},{"wl":8093,"err":0.303},{"wl":8098,"err":0.402},{"wl":8105,"err":0.285},{"wl":8111,"err":0.264},{"wl":8124,"err":0.267},{"wl":8131,"err":0.285},{"wl":8135,"err":0.339},{"wl":8140,"err":0.303},{"wl":8144,"err":0.339},{"wl":8148,"err":0.271},{"wl":8170,"err":0.267},{"wl":8183,"err":0.285},{"wl":8190,"err":0.271},{"wl":8204,"err":0.271},{"wl":8214,"err":0.282},{"wl":8225,"err":0.30},{"wl":8235,"err":0.289},{"wl":8248,"err":0.271},{"wl":8261,"err":0.264},
      {"wl":8268,"err":0.285},{"wl":8274,"err":0.745},{"wl":8278,"err":0.664},{"wl":8283,"err":0.862},{"wl":8288,"err":0.59},{"wl":8293,"err":0.90},{"wl":8298,"err":0.375},{"wl":8302,"err":0.303},{"wl":8306,"err":0.492},{"wl":8310,"err":0.285},{"wl":8316,"err":0.271},{"wl":8324,"err":0.271},{"wl":8332,"err":0.285},{"wl":8336,"err":0.59},{"wl":8340,"err":1.3},{"wl":8344,"err":0.411},{"wl":8348,"err":0.727},{"wl":8353,"err":0.357},{"wl":8359,"err":0.483},{"wl":8365,"err":0.285},{"wl":8371,"err":0.285},{"wl":8378,"err":0.61},{"wl":8383,"err":0.285},{"wl":8389,"err":0.303},{"wl":8395,"err":1.3},{"wl":8399,"err":0.303},{"wl":8405,"err":0.303},{"wl":8410,"err":0.69},{"wl":8415,"err":0.285},{"wl":8421,"err":0.303},{"wl":8425,"err":1.3},{"wl":8430,"err":0.303},{"wl":8436,"err":0.285},{"wl":8443,"err":0.285},{"wl":8447,"err":0.619},{"wl":8452,"err":0.285},{"wl":8456,"err":0.59},{"wl":8460,"err":1.03},{"wl":8465,"err":0.303},{"wl":8470,"err":0.294},{"wl":8477,"err":0.276},{"wl":8482,"err":0.285},{"wl":8488,"err":0.537},{"wl":8494,"err":0.303},{"wl":8499,"err":0.80},{"wl":8504,"err":0.303},{"wl":8509,"err":0.285},{"wl":8520,"err":0.285},{"wl":8528,"err":0.267},{"wl":8533,"err":0.411},{"wl":8538,"err":0.303},{"wl":8543,"err":0.519},{"wl":8548,"err":0.294},{"wl":8556,"err":0.267},{"wl":8565,"err":0.285},{"wl":8571,"err":0.276},{"wl":8578,"err":0.285},{"wl":8582,"err":0.357},{"wl":8586,"err":0.321},{"wl":8591,"err":0.393},{"wl":8597,"err":0.303},{"wl":8603,"err":0.303},{"wl":8610,"err":0.501},{"wl":8617,"err":0.655},{"wl":8623,"err":0.72},{"wl":8630,"err":0.664},{"wl":8636,"err":0.447},{"wl":8641,"err":0.375},{"wl":8646,"err":0.655},{"wl":8653,"err":0.772},{"wl":8658,"err":0.745},{"wl":8663,"err":0.655},{"wl":8668,"err":0.519},{"wl":8674,"err":0.393},{"wl":8680,"err":0.357},{"wl":8687,"err":0.348},{"wl":8693,"err":0.339},{"wl":8700,"err":0.321},{"wl":8706,"err":0.285},{"wl":8719,"err":0.285},{"wl":8732,"err":0.285},{"wl":8745,"err":0.294},{"wl":8751,"err":0.898},{"wl":8755,"err":0.79},{"wl":8759,"err":1.015},{"wl":8762,"err":0.754},{"wl":8766,"err":0.646},{"wl":8770,"err":1.04},{"wl":8775,"err":0.519},{"wl":8781,"err":0.339},{"wl":8786,"err":0.637},{"wl":8791,"err":0.303},{"wl":8798,"err":0.285},{"wl":8803,"err":0.339},{"wl":8808,"err":0.285},{"wl":8815,"err":0.303},{"wl":8820,"err":1.3},{"wl":8824,"err":0.772},{"wl":8829,"err":0.934},{"wl":8834,"err":0.555},{"wl":8839,"err":0.303},{"wl":8844,"err":0.573},{"wl":8848,"err":0.40},
      {"wl":8851,"err":0.30},{"wl":8855,"err":0.339},{"wl":8859,"err":0.78},{"wl":8863,"err":0.375},{"wl":8868,"err":0.30},{"wl":8873,"err":0.339},{"wl":8877,"err":1.3},{"wl":8881,"err":1.3},{"wl":8885,"err":0.33},{"wl":8890,"err":0.339},{"wl":8895,"err":0.862},{"wl":8901,"err":0.339},{"wl":8907,"err":0.33},{"wl":8912,"err":1.3},{"wl":8916,"err":0.339},{"wl":8922,"err":0.33},{"wl":8932,"err":0.339},{"wl":8937,"err":0.817},{"wl":8941,"err":0.339},{"wl":8945,"err":0.33},{"wl":8950,"err":1.3},{"wl":8953,"err":1.3},{"wl":8957,"err":0.339},{"wl":8961,"err":0.33},{"wl":8965,"err":0.357},{"wl":8970,"err":0.33},{"wl":8976,"err":0.357},{"wl":8982,"err":0.78},{"wl":8987,"err":0.357},{"wl":8991,"err":0.339},{"wl":8993,"err":1.3},{"wl":8997,"err":0.339},{"wl":9002,"err":0.312},{"wl":9010,"err":0.321},{"wl":9017,"err":0.33},{"wl":9023,"err":0.321},{"wl":9030,"err":0.555},{"wl":9035,"err":0.339},{"wl":9042,"err":0.718},{"wl":9047,"err":0.357},{"wl":9052,"err":0.33},{"wl":9059,"err":0.353},{"wl":9064,"err":0.33},{"wl":9070,"err":0.321},{"wl":9077,"err":0.339},{"wl":9085,"err":0.483},{"wl":9090,"err":0.339},{"wl":9095,"err":0.546},{"wl":9100,"err":0.339},{"wl":9107,"err":0.312},{"wl":9116,"err":0.312},{"wl":9122,"err":0.321},{"wl":9129,"err":0.33},{"wl":9136,"err":0.33},{"wl":9143,"err":0.451},{"wl":9149,"err":0.375},{"wl":9154,"err":0.487},{"wl":9159,"err":0.339},{"wl":9166,"err":0.33},{"wl":9175,"err":0.325},{"wl":9184,"err":0.33},{"wl":9194,"err":0.339},{"wl":9201,"err":0.339},{"wl":9207,"err":0.429},{"wl":9213,"err":0.393},{"wl":9218,"err":0.456},{"wl":9223,"err":0.339},{"wl":9228,"err":0.339},{"wl":9235,"err":0.339},{"wl":9241,"err":0.402},{"wl":9248,"err":0.339},{"wl":9253,"err":0.357},{"wl":9257,"err":0.339},{"wl":9262,"err":0.339},{"wl":9267,"err":0.339},{"wl":9274,"err":0.339},{"wl":9279,"err":0.447},{"wl":9283,"err":0.42},{"wl":9287,"err":0.465},{"wl":9292,"err":0.393},{"wl":9300,"err":0.393}
    ]
  },
  "data": {"name": "flux"},
  "encoding": {
    "x": {
      "field": "wl",
      "type": "quantitative",
      "scale": {"domain": [4751, 9300], "nice": false, "zero": false},
      "axis": {
        "title": "Wavelength",
        "values": [5000, 6000, 7000, 8000, 9000],
        "format": "d",
        "labelFontSize": 28,
        "titleFontSize": 32.5,
        "labelPadding": 9,
        "titlePadding": 4
      }
    },
    "y": {
      "field": "flux",
      "type": "quantitative",
      "scale": {"domain": [-1.619, 1.1035], "nice": false, "zero": false},
      "title": "10⁻¹⁸ erg s⁻¹ cm⁻² Å⁻¹",
      "axis": {
        "values": [-1.5, -1, -0.5, 0, 0.5, 1],
        "format": ".1f",
        "labelFontSize": 33,
        "titleFontSize": 46,
        "labelPadding": 17,
        "titlePadding": 30
      }
    }
  },
  "layer": [
    {
      "mark": {"type": "line", "color": "#0000ff", "strokeWidth": 5},
      "encoding": {
        "y": {
          "datum": 0,
          "type": "quantitative",
          "scale": {"domain": [-1.619, 1.1035], "nice": false, "zero": false},
          "title": "10⁻¹⁸ erg s⁻¹ cm⁻² Å⁻¹"
        }
      }
    },
    {
      "data": {"name": "error"},
      "mark": {"type": "line", "color": "#008000", "strokeWidth": 1.3, "clip": true},
      "encoding": {
        "y": {
          "field": "err",
          "type": "quantitative",
          "scale": {"domain": [-1.619, 1.1035], "nice": false, "zero": false},
          "title": "10⁻¹⁸ erg s⁻¹ cm⁻² Å⁻¹"
        }
      }
    },
    {
      "mark": {"type": "line", "color": "black", "strokeWidth": 4, "strokeJoin": "round", "clip": true}
    }
  ],
  "config": {
    "font": "DejaVu Sans",
    "view": {"stroke": "black", "strokeWidth": 2.5},
    "axis": {
      "domain": false,
      "grid": false,
      "tickColor": "black",
      "tickWidth": 2,
      "tickSize": 13,
      "labelColor": "black",
      "titleColor": "black",
      "labelFont": "DejaVu Sans",
      "titleFont": "DejaVu Sans",
      "titleFontWeight": "normal"
    }
  }
}
